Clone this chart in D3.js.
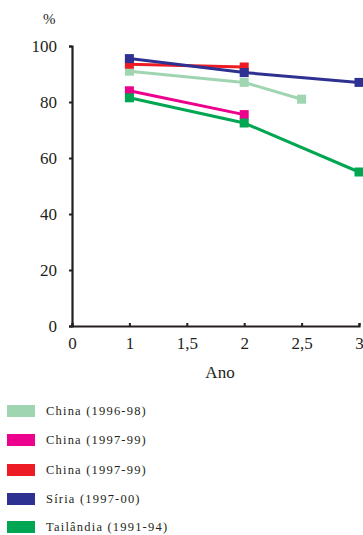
<!DOCTYPE html>
<html>
<head>
<meta charset="utf-8">
<script src="https://cdn.jsdelivr.net/npm/d3@7"></script>
<style>
  body { margin: 0; background: #fff; }
  svg text { font-family: "Liberation Serif", "DejaVu Serif", serif; fill: #231f20; }
</style>
</head>
<body>
<svg width="363" height="535"></svg>
<script>
// data
var xTicks = ["0", "1", "1,5", "2", "2,5", "3"];
var yTicks = [0, 20, 40, 60, 80, 100];
var names = ["China (1996-98)", "China (1997-99)", "China (1997-99)", "Síria (1997-00)", "Tailândia (1991-94)"];
var colors = ["#9fd5b1", "#ec008c", "#ed1c24", "#2e3192", "#00a651"];
var chinaA = [["1", 91], ["2", 87], ["2,5", 81]];
var chinaB = [["1", 84], ["2", 75.5]];
var chinaC = [["1", 93.5], ["2", 92.5]];
var siria = [["1", 95.5], ["2", 90.5], ["3", 87]];
var tailandia = [["1", 81.5], ["2", 72.5], ["3", 55]];
var series = [chinaA, chinaB, chinaC, siria, tailandia];

var svg = d3.select("svg");

var x = d3.scalePoint().domain(xTicks).range([72, 359]);
var y = d3.scaleLinear().domain([0, 100]).range([326, 46]);

// axes
var gx = svg.append("g")
	.attr("transform", "translate(0,326)")
	.call(d3.axisBottom(x).tickSize(-3).tickPadding(10));
var gy = svg.append("g")
	.attr("transform", "translate(72,0)")
	.call(d3.axisLeft(y).tickValues(yTicks).tickSize(3).tickPadding(12));

[gx, gy].forEach(function(g) {
	g.attr("font-family", "Liberation Serif, serif");
	g.select(".domain").attr("stroke", "#231f20").attr("stroke-width", 2.2);
	g.selectAll(".tick line").attr("stroke", "#231f20").attr("stroke-width", 2);
	g.selectAll("text").attr("font-size", 17).attr("fill", "#231f20")
		.style("font-family", "'Liberation Serif', serif");
});
gx.selectAll("text").attr("dy", "0.75em");

svg.append("text").attr("x", 43).attr("y", 24).attr("font-size", 15).text("%");
svg.append("text").attr("x", 220).attr("y", 378).attr("text-anchor", "middle").attr("font-size", 17).text("Ano");

// lines
var line = d3.line()
	.x(function(d) { return x(d[0]); })
	.y(function(d) { return y(d[1]); });

series.forEach(function(s, i) {
	svg.append("path").datum(s)
		.attr("d", line)
		.attr("fill", "none")
		.attr("stroke", colors[i])
		.attr("stroke-width", 3);
	svg.selectAll(null).data(s).enter().append("rect")
		.attr("x", function(d) { return x(d[0]) - 4.5; })
		.attr("y", function(d) { return y(d[1]) - 4.5; })
		.attr("width", 9).attr("height", 9)
		.attr("fill", colors[i]);
});

// legend
var rowsY = [411, 440, 470, 499, 527];
var lg = svg.selectAll(".leg").data(names).enter().append("g")
	.attr("transform", function(d, i) { return "translate(0," + rowsY[i] + ")"; });
lg.append("rect").attr("x", 7).attr("y", -6).attr("width", 28).attr("height", 12)
	.attr("fill", function(d, i) { return colors[i]; });
lg.append("text").attr("x", 46).attr("y", 4).attr("font-size", 12.5)
	.attr("letter-spacing", 1.2).text(function(d) { return d; });
</script>
</body>
</html>
